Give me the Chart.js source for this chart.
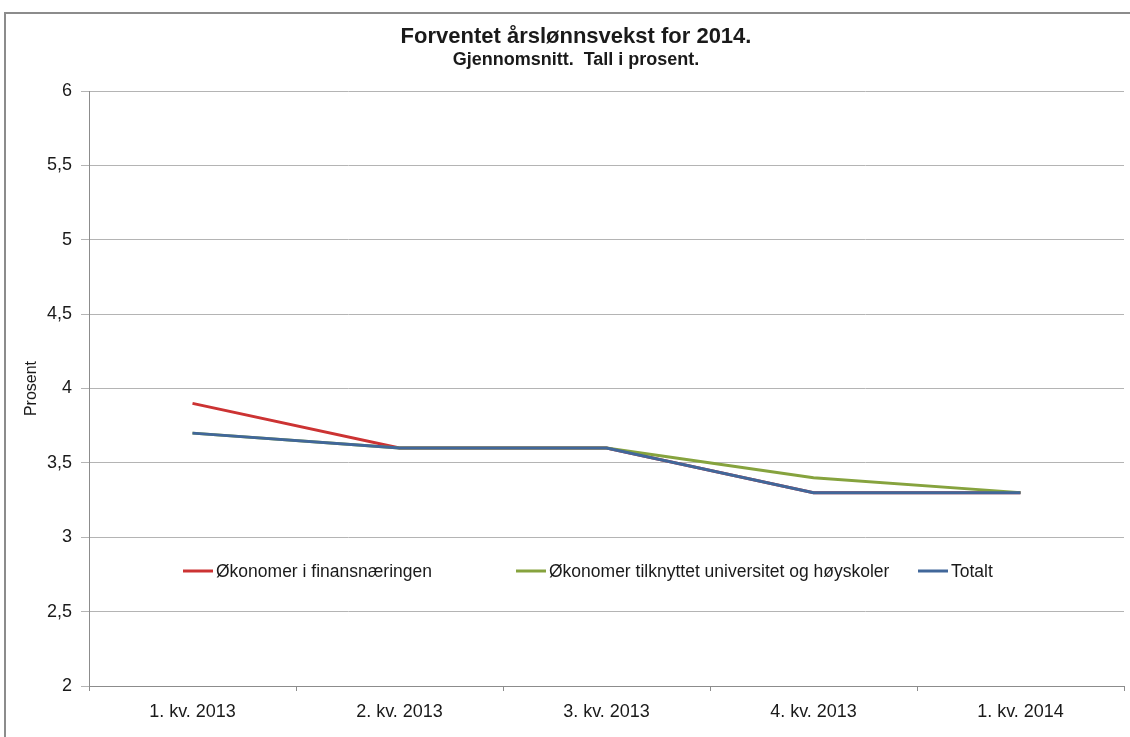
<!DOCTYPE html>
<html lang="no">
<head>
<meta charset="utf-8">
<title>Forventet årslønnsvekst for 2014</title>
<script src="https://cdn.jsdelivr.net/npm/chart.js@4/dist/chart.umd.min.js"></script>
<style>
  html, body { margin: 0; padding: 0; background: #fff; }
  #wrap { position: relative; width: 1130px; height: 737px; overflow: hidden; }
  #frame { position: absolute; left: 4px; top: 12px; width: 1140px; height: 740px;
           border: 2px solid #8c8c8c; box-sizing: border-box; }
  canvas { position: absolute; left: 0; top: 0; }
</style>
</head>
<body>
<div id="wrap">
  <div id="frame"></div>
  <canvas id="chart" width="1130" height="737"></canvas>
</div>
<script>
'use strict';

// ─── Data ───────────────────────────────────────────────────────────────────

const kvartaler = ['1. kv. 2013', '2. kv. 2013', '3. kv. 2013', '4. kv. 2013', '1. kv. 2014'];
const finans    = [3.9, 3.6, 3.6, 3.3, 3.3];
const univ      = [3.7, 3.6, 3.6, 3.4, 3.3];
const totalt    = [3.7, 3.6, 3.6, 3.3, 3.3];

const tittel    = 'Forventet årslønnsvekst for 2014.';
const undertekst = 'Gjennomsnitt.  Tall i prosent.';

const C = {
  red:   '#cc3333',
  green: '#86a33e',
  blue:  '#41679a',
  grid:  '#b4b4b4',
  axis:  '#8c8c8c',
  text:  '#1a1a1a',
};

const FONT = "'Liberation Sans', Arial, sans-serif";
Chart.defaults.font.family = FONT;
Chart.defaults.color = C.text;

// ─── Plugins ────────────────────────────────────────────────────────────────

// Title block, centred like the original (slightly right of canvas centre)
const header = {
  id: 'header',
  afterDraw(chart, args, opts) {
    const ctx = chart.ctx;
    ctx.save();
    ctx.fillStyle = C.text;
    ctx.textAlign = 'center';
    ctx.textBaseline = 'middle';
    ctx.font = 'bold 22px ' + FONT;
    ctx.fillText(opts.title, opts.x, opts.y1);
    ctx.font = 'bold 18px ' + FONT;
    ctx.fillText(opts.subtitle, opts.x, opts.y2);
    ctx.restore();
  },
};

// Legend drawn inside the plot area, like the original
const innerLegend = {
  id: 'innerLegend',
  afterDatasetsDraw(chart, args, opts) {
    const ctx = chart.ctx;
    const y = opts.y;
    ctx.save();
    ctx.font = '17.5px ' + FONT;
    ctx.textBaseline = 'middle';
    chart.data.datasets.forEach(function(ds, i) {
      const x = opts.xs[i];
      ctx.strokeStyle = ds.borderColor;
      ctx.lineWidth = 3;
      ctx.beginPath();
      ctx.moveTo(x, y);
      ctx.lineTo(x + 30, y);
      ctx.stroke();
      ctx.fillStyle = C.text;
      ctx.fillText(ds.label, x + 33, y + 1);
    });
    ctx.restore();
  },
};

const line = (label, data, color, order) => ({
  label: label,
  data: data,
  borderColor: color,
  backgroundColor: color,
  borderWidth: 3,
  pointRadius: 0,
  tension: 0,
  fill: false,
  order: order,
});

new Chart(document.getElementById('chart').getContext('2d'), {
  type: 'line',
  data: {
    labels: kvartaler,
    datasets: [
      line('Økonomer i finansnæringen', finans, C.red, 2),
      line('Økonomer tilknyttet universitet og høyskoler', univ, C.green, 1),
      line('Totalt', totalt, C.blue, 0),
    ],
  },
  options: {
    responsive: false,
    animation: false,
    layout: { padding: { left: 4, right: 6, top: 91, bottom: 0 } },
    plugins: {
      legend: { display: false },
      tooltip: { enabled: false },
      header: { title: tittel, subtitle: undertekst, x: 576, y1: 37, y2: 60 },
      innerLegend: { y: 571, xs: [183, 516, 918] },
    },
    scales: {
      x: {
        offset: true,
        grid: { drawOnChartArea: false, offset: true, tickLength: 5, color: C.axis },
        border: { color: C.axis, width: 1 },
        ticks: { font: { size: 18 }, padding: 10, color: C.text },
        afterFit: s => { s.height = 51; },
      },
      y: {
        min: 2,
        max: 6,
        grid: { color: C.grid, tickLength: 8 },
        border: { color: C.axis, width: 1 },
        ticks: {
          stepSize: 0.5,
          font: { size: 18 },
          padding: 9,
          color: C.text,
          callback: v => String(v).replace('.', ','),
        },
        title: { display: true, text: 'Prosent', font: { size: 16 }, color: C.text,
                 padding: { top: 18, bottom: 0 } },
        afterFit: s => { s.width = 85; },
      },
    },
  },
  plugins: [header, innerLegend],
});
</script>
</body>
</html>
